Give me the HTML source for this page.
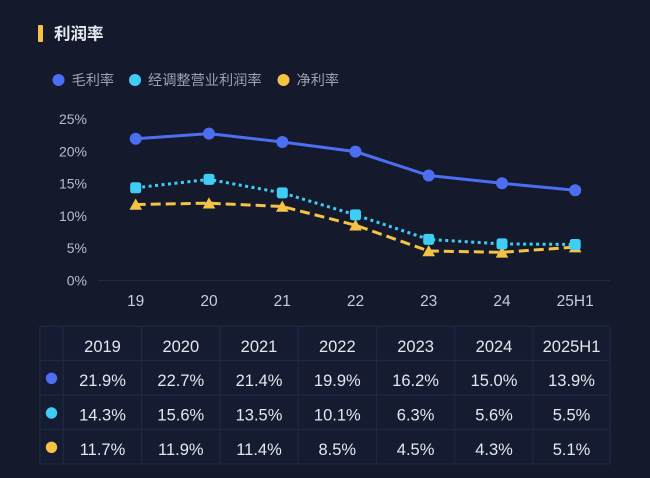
<!DOCTYPE html>
<html><head><meta charset="utf-8">
<style>
html,body{margin:0;padding:0;background:#141a2c;}
body{width:650px;height:478px;overflow:hidden;font-family:"Liberation Sans","Noto Sans CJK SC",sans-serif;}
svg{display:block}
</style></head>
<body>
<svg width="650" height="478" viewBox="0 0 650 478" xmlns="http://www.w3.org/2000/svg" font-family="Liberation Sans, Noto Sans CJK SC, sans-serif">
<rect x="0" y="0" width="650" height="478" fill="#141a2c"/>
<!-- title -->
<rect x="38" y="25" width="5" height="17" rx="1" fill="#f5c343"/>
<text x="54" y="39.5" font-size="16.5" font-weight="bold" fill="#e8eaf0">利润率</text>
<!-- legend -->
<circle cx="58.5" cy="80" r="6" fill="#4d6ef2"/>
<text x="71.5" y="85" font-size="14.2" fill="#9ba1ae">毛利率</text>
<circle cx="135" cy="80" r="6" fill="#3fcdf6"/>
<text x="148" y="85" font-size="14.2" fill="#9ba1ae">经调整营业利润率</text>
<circle cx="283.5" cy="80" r="6" fill="#f5c343"/>
<text x="296.5" y="85" font-size="14.2" fill="#9ba1ae">净利率</text>
<!-- y axis labels -->
<g font-size="14" fill="#b9bdc9" text-anchor="end">
<text x="87" y="124">25%</text>
<text x="87" y="156.3">20%</text>
<text x="87" y="188.6">15%</text>
<text x="87" y="220.9">10%</text>
<text x="87" y="253.2">5%</text>
<text x="87" y="285.3">0%</text>
</g>
<line x1="98" y1="280.5" x2="610" y2="280.5" stroke="#232b42" stroke-width="1"/>
<!-- x labels -->
<g font-size="15.5" fill="#c8ccd6" text-anchor="middle">
<text x="135.7" y="306">19</text>
<text x="209" y="306">20</text>
<text x="282.3" y="306">21</text>
<text x="355.5" y="306">22</text>
<text x="428.7" y="306">23</text>
<text x="502" y="306">24</text>
<text x="575.2" y="306">25H1</text>
</g>
<!-- gross margin -->
<polyline fill="none" stroke="#4d6ef2" stroke-width="3" stroke-linejoin="round"
 points="135.7,138.7 209,133.6 282.3,142 355.5,151.6 428.7,175.5 502,183.3 575.2,190.3"/>
<g fill="#4d6ef2">
<circle cx="135.7" cy="138.7" r="6"/><circle cx="209" cy="133.6" r="6"/><circle cx="282.3" cy="142" r="6"/>
<circle cx="355.5" cy="151.6" r="6"/><circle cx="428.7" cy="175.5" r="6"/><circle cx="502" cy="183.3" r="6"/>
<circle cx="575.2" cy="190.3" r="6"/>
</g>
<!-- net margin -->
<polyline fill="none" stroke="#f5c343" stroke-width="3" stroke-dasharray="10,5"
 points="135.7,204.5 209,203.2 282.3,206.5 355.5,225.2 428.7,251 502,252.3 575.2,247.1"/>
<g fill="#f5c343">
<polygon points="135.7,198.5 142,209.8 129.4,209.8"/>
<polygon points="209,197.2 215.3,208.5 202.7,208.5"/>
<polygon points="282.3,200.5 288.6,211.8 276,211.8"/>
<polygon points="355.5,219.2 361.8,230.5 349.2,230.5"/>
<polygon points="428.7,245 435,256.3 422.4,256.3"/>
<polygon points="502,246.3 508.3,257.6 495.7,257.6"/>
<polygon points="575.2,241.1 581.5,252.4 568.9,252.4"/>
</g>
<!-- adjusted op margin -->
<polyline fill="none" stroke="#3fcdf6" stroke-width="3" stroke-dasharray="3,3.5"
 points="135.7,187.8 209,179.4 282.3,192.9 355.5,214.9 428.7,239.4 502,243.9 575.2,244.5"/>
<g fill="#3fcdf6">
<rect x="130.2" y="182.3" width="11" height="11" rx="2.5"/>
<rect x="203.5" y="173.9" width="11" height="11" rx="2.5"/>
<rect x="276.8" y="187.4" width="11" height="11" rx="2.5"/>
<rect x="350" y="209.4" width="11" height="11" rx="2.5"/>
<rect x="423.2" y="233.9" width="11" height="11" rx="2.5"/>
<rect x="496.5" y="238.4" width="11" height="11" rx="2.5"/>
<rect x="569.7" y="239" width="11" height="11" rx="2.5"/>
</g>
<!-- table -->
<rect x="40" y="326" width="570" height="138" fill="#151c31"/>
<g stroke="#1f2843" stroke-width="1.2" fill="none">
<rect x="40" y="326" width="570" height="138"/>
<line x1="40" y1="360.5" x2="610" y2="360.5"/>
<line x1="40" y1="395" x2="610" y2="395"/>
<line x1="40" y1="429.5" x2="610" y2="429.5"/>
<line x1="63.3" y1="326" x2="63.3" y2="464"/>
<line x1="141.6" y1="326" x2="141.6" y2="464"/>
<line x1="219.9" y1="326" x2="219.9" y2="464"/>
<line x1="298.2" y1="326" x2="298.2" y2="464"/>
<line x1="376.5" y1="326" x2="376.5" y2="464"/>
<line x1="454.8" y1="326" x2="454.8" y2="464"/>
<line x1="533.1" y1="326" x2="533.1" y2="464"/>
</g>
<circle cx="51.5" cy="378.3" r="5.7" fill="#4d6ef2"/>
<circle cx="51.5" cy="413" r="5.7" fill="#3fcdf6"/>
<circle cx="51.5" cy="447.3" r="5.7" fill="#f5c343"/>
<g font-size="16.5" fill="#e4e7ee" text-anchor="middle">
<text x="102.5" y="352">2019</text><text x="180.8" y="352">2020</text><text x="259" y="352">2021</text>
<text x="337.3" y="352">2022</text><text x="415.6" y="352">2023</text><text x="494" y="352">2024</text>
<text x="571.5" y="352">2025H1</text>
<text x="102.5" y="386">21.9%</text><text x="180.8" y="386">22.7%</text><text x="259" y="386">21.4%</text>
<text x="337.3" y="386">19.9%</text><text x="415.6" y="386">16.2%</text><text x="494" y="386">15.0%</text>
<text x="571.5" y="386">13.9%</text>
<text x="102.5" y="420.5">14.3%</text><text x="180.8" y="420.5">15.6%</text><text x="259" y="420.5">13.5%</text>
<text x="337.3" y="420.5">10.1%</text><text x="415.6" y="420.5">6.3%</text><text x="494" y="420.5">5.6%</text>
<text x="571.5" y="420.5">5.5%</text>
<text x="102.5" y="455">11.7%</text><text x="180.8" y="455">11.9%</text><text x="259" y="455">11.4%</text>
<text x="337.3" y="455">8.5%</text><text x="415.6" y="455">4.5%</text><text x="494" y="455">4.3%</text>
<text x="571.5" y="455">5.1%</text>
</g>
</svg>
</body></html>
